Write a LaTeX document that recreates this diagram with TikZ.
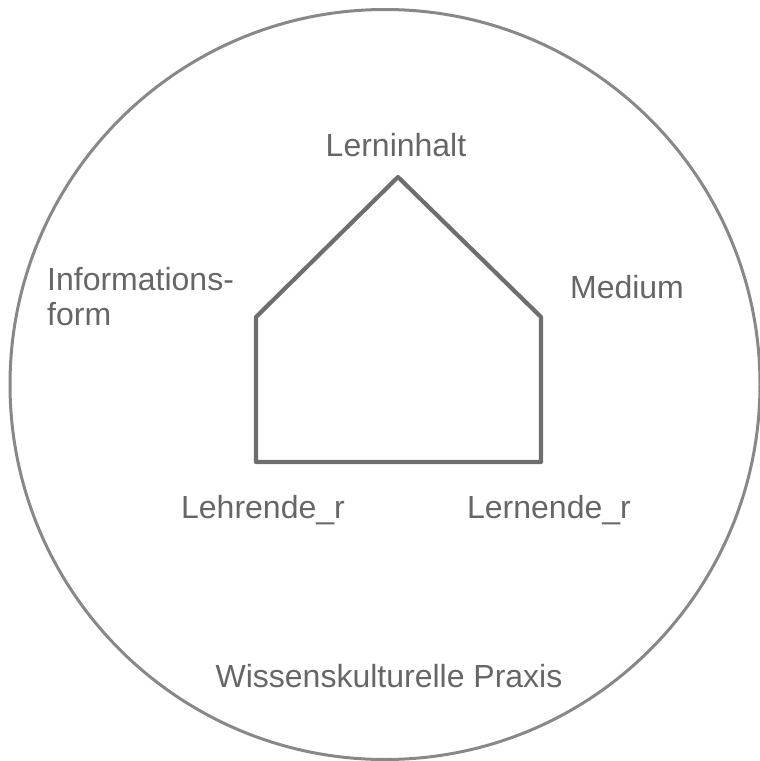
\documentclass[tikz,border=0pt]{standalone}
\usepackage{fontspec}
\setmainfont{Liberation Sans}
\definecolor{labelgray}{HTML}{666666}
\definecolor{housegray}{HTML}{6E6E6E}
\definecolor{ringgray}{HTML}{888888}
\begin{document}
\begin{tikzpicture}[x=1pt,y=-1pt,
  label/.style={text=labelgray,inner sep=0pt,font=\fontsize{32}{35}\selectfont},
  house/.style={draw=housegray,line width=4.2pt,line join=round},
  ring/.style={draw=ringgray,line width=3pt}]
  \useasboundingbox (0,0) rectangle (760,761);
  % outer circle: knowledge-cultural practice
  \draw[ring] (385,384.5) circle[radius=375];
  % house shape
  \coordinate (apex) at (398,177);
  \coordinate (sl) at (256,317);
  \coordinate (sr) at (541,317);
  \coordinate (br) at (541,462);
  \coordinate (bl) at (256,462);
  \draw[house] (sl) -- (apex) -- (sr) -- (br) -- (bl) -- cycle;
  % labels
  \node[label,anchor=base] (inhalt) at (396,156) {Lerninhalt};
  \node[label,anchor=base] (medium) at (627,298) {Medium};
  \node[label,anchor=base west,align=left] (info) at (47,325) {Informations-\\form};
  \node[label,anchor=base] (lehrende) at (263,518) {Lehrende\_r};
  \node[label,anchor=base] (lernende) at (549,518) {Lernende\_r};
  \node[label,anchor=base] (praxis) at (389,687) {Wissenskulturelle Praxis};
\end{tikzpicture}
\end{document}
